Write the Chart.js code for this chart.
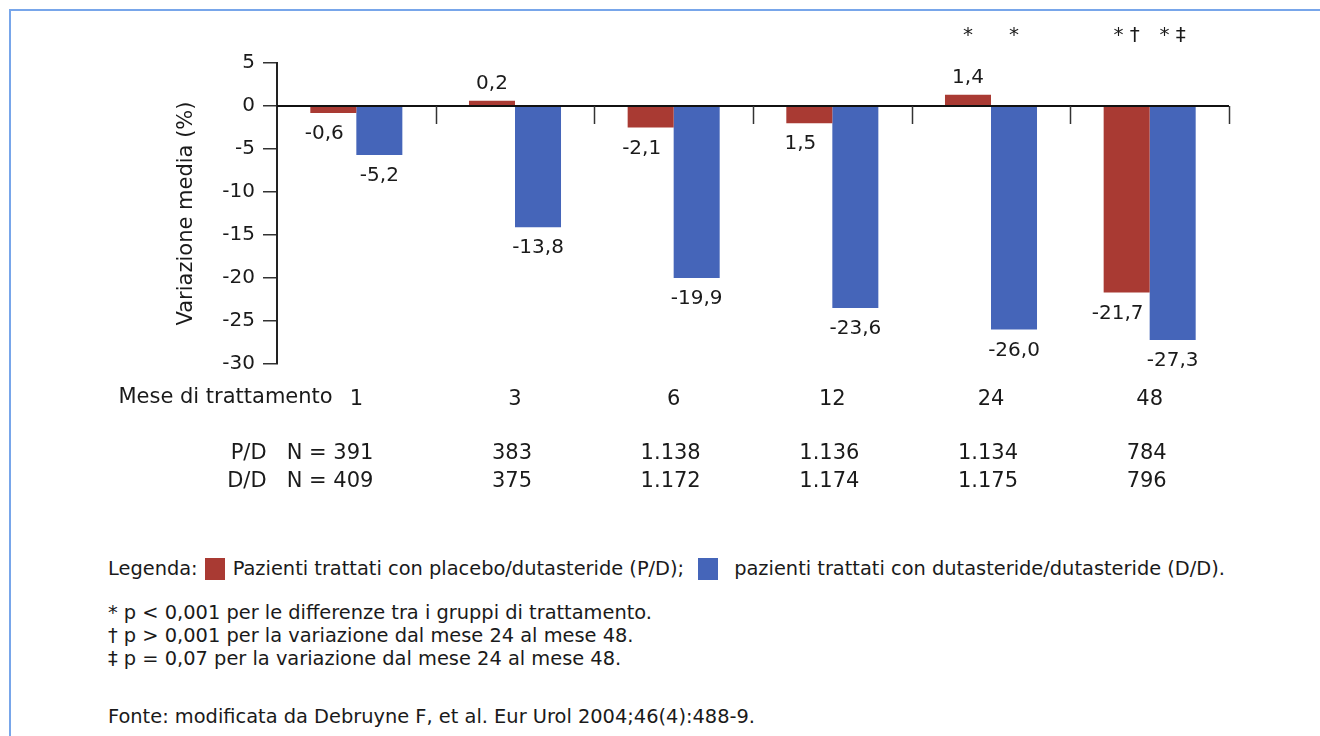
<!DOCTYPE html>
<html lang="it">
  <head>
    <meta charset="UTF-8" />
    <meta name="viewport" content="width=device-width, initial-scale=1.0" />
    <script src="https://cdn.jsdelivr.net/npm/chart.js@4.4.1/dist/chart.umd.min.js"></script>
    <title>Variazione media</title>
    <style>
      body { margin: 0; background: #fff; font-family: "DejaVu Sans", sans-serif; color: #1a1a1a; }
      .frame { position: absolute; left: 9px; top: 9px; right: 0; bottom: 0;
               border-left: 2px solid #78a6ea; border-top: 2px solid #78a6ea; }
      #chart { position: absolute; left: 0; top: 0; }
      .notes { position: absolute; left: 108px; top: 557px; font-size: 19.4px; line-height: 23px; }
      .legend { display: flex; align-items: center; margin-bottom: 21px; }
      .sq { display: inline-block; width: 20px; height: 22px; margin: 0 8px 0 7px; }
      .src { margin-top: 35px; }
    </style>
  </head>
  <body>
    <div class="frame"></div>
    <canvas id="chart" width="1320" height="500"></canvas>
    <div class="notes">
      <div class="legend">Legenda:<span class="sq" style="background:#a93a33"></span>Pazienti trattati con placebo/dutasteride (P/D);<span class="sq" style="background:#4565b9; margin-left:14px; margin-right:16px"></span>pazienti trattati con dutasteride/dutasteride (D/D).</div>
      <div>* p &lt; 0,001 per le differenze tra i gruppi di trattamento.</div>
      <div>† p &gt; 0,001 per la variazione dal mese 24 al mese 48.</div>
      <div>‡ p = 0,07 per la variazione dal mese 24 al mese 48.</div>
      <div class="src">Fonte: modificata da Debruyne F, et al. Eur Urol 2004;46(4):488-9.</div>
    </div>
    <script>
      const months = ["1", "3", "6", "12", "24", "48"];
      // bar heights as drawn in the picture
      const pdValues = [-0.8, 0.6, -2.5, -2.0, 1.3, -21.7];
      const ddValues = [-5.7, -14.1, -20.0, -23.5, -26.0, -27.2];
      // value labels as printed
      const pdLabels = ["-0,6", "0,2", "-2,1", "1,5", "1,4", "-21,7"];
      const ddLabels = ["-5,2", "-13,8", "-19,9", "-23,6", "-26,0", "-27,3"];
      const pdMarks = ["", "", "", "", "*", "* †"];
      const ddMarks = ["", "", "", "", "*", "* ‡"];
      const pdN = ["391", "383", "1.138", "1.136", "1.134", "784"];
      const ddN = ["409", "375", "1.172", "1.174", "1.175", "796"];
      const yTicks = [5, 0, -5, -10, -15, -20, -25, -30];

      const FONT = '"DejaVu Sans", sans-serif';
      const INK = "#1a1a1a";

      const annotations = {
        id: "annotations",
        afterDatasetsDraw(chart) {
          const { ctx, chartArea } = chart;
          const x = chart.scales.x;
          const y = chart.scales.y;
          const y0 = y.getPixelForValue(0);
          ctx.save();
          // zero line with category ticks
          ctx.strokeStyle = "#111";
          ctx.lineWidth = 2;
          ctx.beginPath();
          ctx.moveTo(x.left, y0);
          ctx.lineTo(x.right, y0);
          ctx.stroke();
          ctx.lineWidth = 1.5;
          ctx.strokeStyle = "#333";
          const catW = (x.right - x.left) / months.length;
          for (let k = 1; k <= months.length; k++) {
            const bx = Math.round(x.left + k * catW) + 0.5;
            ctx.beginPath();
            ctx.moveTo(bx, y0);
            ctx.lineTo(bx, y0 + 18);
            ctx.stroke();
          }

          // value labels and significance marks
          ctx.fillStyle = INK;
          ctx.font = "20px " + FONT;
          ctx.textAlign = "center";
          ctx.textBaseline = "middle";
          const sets = [
            { labels: pdLabels, marks: pdMarks, dx: -9 },
            { labels: ddLabels, marks: ddMarks, dx: 0 },
          ];
          sets.forEach((s, di) => {
            const meta = chart.getDatasetMeta(di);
            meta.data.forEach((bar, i) => {
              const v = chart.data.datasets[di].data[i];
              if (v < 0) {
                ctx.fillText(s.labels[i], bar.x + s.dx, bar.y + 21);
              } else {
                ctx.fillText(s.labels[i], bar.x, bar.y - 17);
              }
              if (s.marks[i]) {
                ctx.textBaseline = "alphabetic";
                ctx.fillText(s.marks[i], bar.x, chartArea.top - 22);
                ctx.textBaseline = "middle";
              }
            });
          });

          // month caption and N rows
          ctx.font = "21px " + FONT;
          const first = x.getPixelForValue(0);
          const w1 = ctx.measureText(months[0]).width;
          ctx.textAlign = "right";
          ctx.fillText("Mese di trattamento", first - w1 / 2 - 17, chartArea.bottom + 34);
          months.forEach((m, i) => {
            const cx = x.getPixelForValue(i) - 3;
            if (i === 0) {
              const wa = ctx.measureText(pdN[i]).width;
              const wb = ctx.measureText(ddN[i]).width;
              ctx.textAlign = "right";
              ctx.fillText("P/D   N = " + pdN[i], cx + wa / 2, chartArea.bottom + 90);
              ctx.fillText("D/D   N = " + ddN[i], cx + wb / 2, chartArea.bottom + 118);
            } else {
              ctx.textAlign = "center";
              ctx.fillText(pdN[i], cx, chartArea.bottom + 90);
              ctx.fillText(ddN[i], cx, chartArea.bottom + 118);
            }
          });
          ctx.restore();
        },
      };

      const ctx = document.getElementById("chart").getContext("2d");
      const chart = new Chart(ctx, {
        type: "bar",
        data: {
          labels: months,
          datasets: [
            { label: "P/D", data: pdValues, backgroundColor: "#a93a33" },
            { label: "D/D", data: ddValues, backgroundColor: "#4565b9" },
          ],
        },
        options: {
          responsive: false,
          animation: false,
          devicePixelRatio: 1,
          categoryPercentage: 0.58,
          barPercentage: 1,
          layout: { padding: { top: 63, right: 91, bottom: 0, left: 170 } },
          plugins: { legend: { display: false }, tooltip: { enabled: false } },
          scales: {
            x: {
              grid: { display: false, drawTicks: false },
              border: { display: false },
              ticks: { color: INK, font: { size: 21, family: FONT }, padding: 23 },
              afterFit(scale) { scale.height = 136; },
            },
            y: {
              min: -30,
              max: 5,
              afterBuildTicks(scale) { scale.ticks = yTicks.map((v) => ({ value: v })); },
              ticks: { color: INK, font: { size: 20, family: FONT }, padding: 8 },
              grid: { drawOnChartArea: false, tickLength: 14, color: "#333", lineWidth: 1.5 },
              border: { color: "#222", width: 2 },
              title: { display: true, text: "Variazione media (%)", color: INK, font: { size: 21, family: FONT } },
              afterFit(scale) { scale.width = 107; },
            },
          },
        },
        plugins: [annotations],
      });
    </script>
  </body>
</html>
